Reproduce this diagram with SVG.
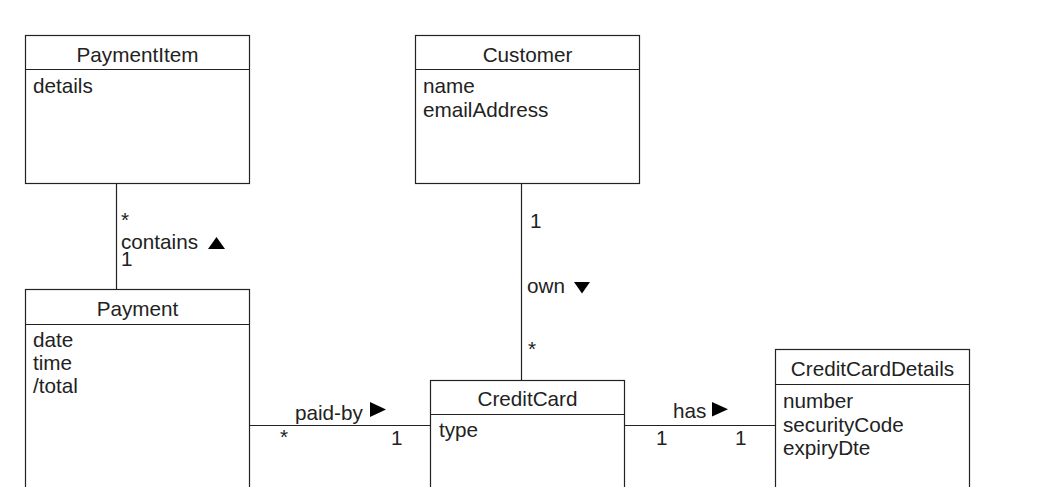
<svg xmlns="http://www.w3.org/2000/svg" width="1040" height="487" viewBox="0 0 1040 487">
<style>
.box{fill:#fff;stroke:#222;stroke-width:1.2}
.sep{stroke:#222;stroke-width:1.2}
.conn{stroke:#222;stroke-width:1.2;fill:none}
text{font-family:"Liberation Sans",Arial,sans-serif;font-size:20.7px;fill:#222}
.title{text-anchor:middle}
.tri{fill:#000}
</style>
<rect width="1040" height="487" fill="#fff"/>
<g id="connectors">
<line class="conn" x1="116.5" y1="183.5" x2="116.5" y2="289.5"/>
<line class="conn" x1="521.5" y1="183.5" x2="521.5" y2="380.5"/>
<line class="conn" x1="249.5" y1="425.5" x2="430.5" y2="425.5"/>
<line class="conn" x1="624.5" y1="425.5" x2="775.5" y2="425.5"/>
<text x="121" y="227">*</text>
<text x="121" y="249">contains</text>
<polygon class="tri" points="208,249 225,249 216.5,237"/>
<text x="121" y="266">1</text>
<text x="530" y="228">1</text>
<text x="527" y="293">own</text>
<polygon class="tri" points="574,282 590,282 582,293.5"/>
<text x="528" y="356">*</text>
<text x="295" y="420">paid-by</text>
<polygon class="tri" points="370,402 370,417 386,409.5"/>
<text x="280" y="444">*</text>
<text x="391" y="445">1</text>
<text x="673" y="418">has</text>
<polygon class="tri" points="712,402 712,416.5 728,409.25"/>
<text x="656" y="445">1</text>
<text x="735" y="445">1</text>
</g>
<g id="PaymentItem">
<rect class="box" x="25.5" y="35.5" width="224" height="148"/>
<line class="sep" x1="25.5" y1="69.5" x2="249.5" y2="69.5"/>
<text class="title" x="137.5" y="62">PaymentItem</text>
<text x="33" y="93">details</text>
</g>
<g id="Customer">
<rect class="box" x="415.5" y="35.5" width="224" height="148"/>
<line class="sep" x1="415.5" y1="69.5" x2="639.5" y2="69.5"/>
<text class="title" x="527.5" y="62">Customer</text>
<text x="423" y="93">name</text>
<text x="423" y="117">emailAddress</text>
</g>
<g id="Payment">
<rect class="box" x="25.5" y="289.5" width="224" height="220"/>
<line class="sep" x1="25.5" y1="324.5" x2="249.5" y2="324.5"/>
<text class="title" x="137.5" y="316">Payment</text>
<text x="33" y="347">date</text>
<text x="33" y="370">time</text>
<text x="33" y="393">/total</text>
</g>
<g id="CreditCard">
<rect class="box" x="430.5" y="380.5" width="194" height="140"/>
<line class="sep" x1="430.5" y1="414.5" x2="624.5" y2="414.5"/>
<text class="title" x="527.5" y="406">CreditCard</text>
<text x="439" y="437">type</text>
</g>
<g id="CreditCardDetails">
<rect class="box" x="775.5" y="349.5" width="194" height="170"/>
<line class="sep" x1="775.5" y1="384.5" x2="969.5" y2="384.5"/>
<text class="title" x="872.5" y="376">CreditCardDetails</text>
<text x="783" y="408">number</text>
<text x="783" y="432">securityCode</text>
<text x="783" y="455">expiryDte</text>
</g>
</svg>
